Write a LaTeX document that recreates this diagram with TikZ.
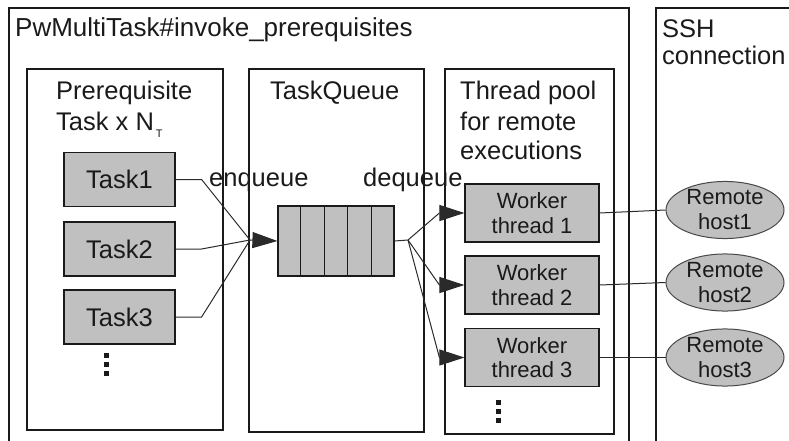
\documentclass[tikz,border=0pt]{standalone}
\usepackage{fontspec}
\setmainfont{Liberation Sans}
\usetikzlibrary{arrows.meta,shapes.geometric,calc}
\definecolor{boxgray}{HTML}{C0C0C0}
\definecolor{ink}{HTML}{1A1A1A}
\definecolor{wire}{HTML}{2A2A2A}
\begin{document}
\begin{tikzpicture}[x=1pt,y=-1pt,
  frame/.style={draw=ink,line width=1.4pt},
  panel/.style={draw=ink,line width=1.3pt},
  label/.style={anchor=base west,inner sep=0pt,text=ink,font=\fontsize{25.5}{30}\selectfont},
  taskbox/.style={draw=ink,line width=1.2pt,fill=boxgray,inner sep=0pt,text=ink,
    minimum width=111pt,minimum height=54pt,font=\fontsize{25.5}{30}\selectfont},
  workerbox/.style={draw=ink,line width=1.2pt,fill=boxgray,inner sep=0pt,text=ink,
    minimum width=134pt,minimum height=58pt,align=center,font=\fontsize{22}{24.5}\selectfont},
  hostnode/.style={ellipse,draw=ink!80,line width=1pt,fill=boxgray,inner sep=0pt,text=ink,
    minimum width=118pt,minimum height=55pt,align=center,font=\fontsize{22}{25}\selectfont},
  conn/.style={draw=wire,line width=1pt},
  tip/.style={-{Triangle[length=25pt,width=16pt]}},
  dot/.style={fill=ink}]
\useasboundingbox (0,0) rectangle (789,441);
\clip (0,0) rectangle (789,441);

% enclosing frames
\draw[frame] (9,446) -- (9,8) -- (629,8) -- (629,446);
\draw[frame] (656,446) -- (656,8) -- (796,8);
\node[label,font=\fontsize{26}{30}\selectfont] (title) at (15,37) {PwMultiTask\#invoke\_prerequisites};
\node[label] (ssh1) at (662,38) {SSH};
\node[label] (ssh2) at (662,65) {connection};

% three panels
\draw[panel] (27,69) rectangle (223,430);
\draw[panel] (249,69) rectangle (424,432);
\draw[panel] (445,69) rectangle (614,434);

\node[label] (pre1) at (56,100) {Prerequisite};
\node[label] (pre2) at (56,130) {Task x N\kern2pt\raisebox{-8pt}{\fontsize{11}{11}\selectfont T}};
\node[label] (tq) at (270,100) {TaskQueue};
\node[label] (tp1) at (460,100) {Thread pool};
\node[label] (tp2) at (460,130) {for remote};
\node[label] (tp3) at (460,159) {executions};

% tasks
\node[taskbox] (t1) at (119.5,179.5) {Task1};
\node[taskbox] (t2) at (119.5,249) {Task2};
\node[taskbox] (t3) at (119.5,317) {Task3};
\fill[dot] (104,353) rectangle (109,358);
\fill[dot] (104,362) rectangle (109,367);
\fill[dot] (104,371) rectangle (109,376);

% queue
\node[taskbox,minimum width=116pt,minimum height=70pt] (queue) at (336,241) {};
\foreach \k in {1,...,4}
  \draw[ink,line width=1.2pt] ($(queue.north west)!\k/5!(queue.north east)$) -- ($(queue.south west)!\k/5!(queue.south east)$);

% workers
\node[workerbox] (w1) at (532,213) {Worker\\thread 1};
\node[workerbox] (w2) at (532,285) {Worker\\thread 2};
\node[workerbox] (w3) at (532,357.5) {Worker\\thread 3};
\fill[dot] (496,400) rectangle (501,405);
\fill[dot] (496,409) rectangle (501,414);
\fill[dot] (496,418) rectangle (501,423);

% remote hosts
\node[hostnode] (h1) at (725,210) {Remote\\host1};
\node[hostnode] (h2) at (725,282.5) {Remote\\host2};
\node[hostnode] (h3) at (725,357.5) {Remote\\host3};

% enqueue
\coordinate (jin) at (250,240);
\draw[conn] (t1.east) -- ++(26,0) -- (jin);
\draw[conn] (t2.east) -- ++(26,0) -- (jin);
\draw[conn] (t3.east) -- ++(26,0) -- (jin);
\draw[conn,tip] (jin) -- (queue.west);
\node[label] (enq) at (209,186) {enqueue};

% dequeue
\coordinate (jout) at (408,240);
\draw[conn] (queue.east) -- (jout);
\draw[conn,tip] (jout) -- ($(w1.west)+(-25,0)$) -- (w1.west);
\draw[conn,tip] (jout) -- ($(w2.west)+(-25,0)$) -- (w2.west);
\draw[conn,tip] (jout) -- ($(w3.west)+(-25,0)$) -- (w3.west);
\node[label] (deq) at (363,186) {dequeue};

% ssh links
\draw[conn] (w1.east) -- (h1.west);
\draw[conn] (w2.east) -- (h2.west);
\draw[conn] (w3.east) -- (h3.west);
\end{tikzpicture}
\end{document}
